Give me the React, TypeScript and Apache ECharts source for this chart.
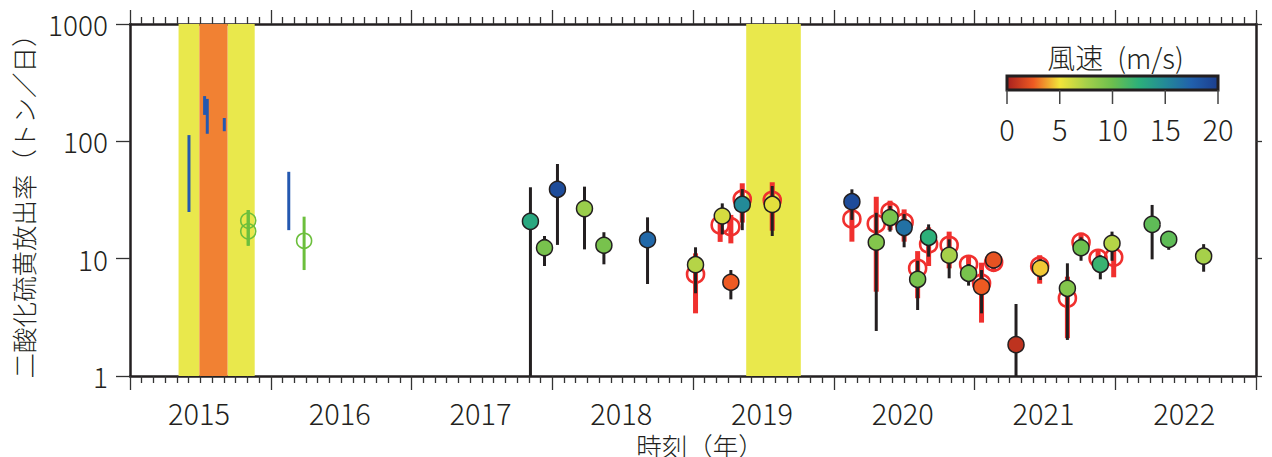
import React, { useEffect, useRef } from "react";
import * as echarts from "echarts";

// ---- data ----
const yearLabels = ["2015", "2016", "2017", "2018", "2019", "2020", "2021", "2022"];
const yTickLabels = ["1", "10", "100", "1000"];
const windTicks = [0, 5, 10, 15, 20];

// alert level periods [start, end] (decimal year)
const level2Periods = [
  [2015.345, 2015.493],
  [2015.693, 2015.886],
  [2019.378, 2019.766],
];
const level3Periods = [[2015.493, 2015.693]];

// range-only measurements 2015-2016: [date, low, high]
const blueRanges = [
  [2015.419, 25.0, 113],
  [2015.53, 168, 243],
  [2015.549, 116, 230],
  [2015.67, 122, 158],
  [2016.128, 17.5, 55],
];
// green open circles: [date, value, low, high]
const greenOpen = [
  [2015.84, 21.1, 12.9, 26.0],
  [2015.84, 17.1, 12.9, 26.0],
  [2016.237, 14.2, 8.0, 22.8],
];

// main filled points: [date, value, wind speed, low, high]
const mainPoints = [
  [2017.845, 20.8, 13, 1, 40.6],
  [2017.945, 12.4, 9.5, 8.66, 15.6],
  [2018.037, 39.0, 19, 13.1, 64.1],
  [2018.229, 26.7, 8, 12.0, 41.1],
  [2018.367, 13.0, 9.5, 8.95, 16.8],
  [2018.677, 14.5, 17, 6.08, 22.5],
  [2019.018, 8.89, 7, 5.07, 12.5],
  [2019.208, 23.1, 6, 16.1, 29.6],
  [2019.269, 6.29, 2.5, 4.5, 8.0],
  [2019.35, 29.0, 15, 17.5, 39.2],
  [2019.563, 29.0, 5.5, 15.6, 41.6],
  [2020.129, 30.6, 19, 21.4, 39.0],
  [2020.302, 13.8, 9, 2.42, 24.6],
  [2020.4, 22.4, 9.5, 17.0, 28.1],
  [2020.5, 18.4, 16.5, 12.5, 24.0],
  [2020.596, 6.67, 9.5, 3.65, 9.6],
  [2020.674, 15.2, 12.5, 10.4, 19.6],
  [2020.82, 10.7, 7.5, 6.8, 14.6],
  [2020.958, 7.5, 9.5, 5.89, 9.0],
  [2021.05, 5.77, 2.5, 3.42, 8.0],
  [2021.136, 9.74, 2.2, 8.27, 11.1],
  [2021.295, 1.85, 0.8, 1, 4.11],
  [2021.468, 8.27, 4.5, 6.58, 9.87],
  [2021.66, 5.59, 9, 2.03, 9.13],
  [2021.757, 12.4, 10, 9.6, 15.2],
  [2021.894, 8.95, 12, 6.67, 10.7],
  [2021.977, 13.5, 7, 9.6, 17.0],
  [2022.262, 19.6, 10.5, 9.87, 28.7],
  [2022.38, 14.6, 10.5, 11.9, 16.7],
  [2022.628, 10.5, 7.5, 7.74, 13.3],
];

// red open circles (second method): [date, value, low, high]
const redPoints = [
  [2019.018, 7.36, 3.42, 11.1],
  [2019.193, 19.4, 13.9, 22.6],
  [2019.269, 18.7, 13.5, 23.6],
  [2019.35, 32.1, 20.3, 43.9],
  [2019.563, 31.4, 17.3, 44.8],
  [2020.129, 21.8, 13.96, 27.7],
  [2020.302, 19.8, 5.23, 33.7],
  [2020.4, 25.1, 17.5, 31.2],
  [2020.5, 20.4, 13.96, 26.3],
  [2020.596, 8.27, 4.6, 11.6],
  [2020.674, 13.3, 8.66, 18.5],
  [2020.82, 13.0, 8.27, 17.0],
  [2020.958, 8.95, 7.5, 10.7],
  [2021.05, 6.17, 2.85, 9.24],
  [2021.136, 9.31, 7.76, 10.7],
  [2021.463, 8.66, 6.12, 10.7],
  [2021.66, 4.59, 2.1, 7.02],
  [2021.757, 13.8, 11.9, 15.9],
  [2021.878, 10.07, 7.74, 12.0],
  [2021.989, 10.3, 6.94, 11.9],
];

const windColors = [
  "#a8201e", "#ee5a22", "#f2e43a", "#a6d04a", "#6cbf4e",
  "#2cb07a", "#238a98", "#2160ac", "#1c3e8e",
];

const FONT = "'Noto Sans CJK JP', 'Noto Sans', sans-serif";
const INK = "#231f20";
const FW = 300;

function barSeries(data: number[][], color: string, width: number, z: number) {
  return {
    type: "custom",
    z,
    data,
    encode: { x: 0, y: [1, 2] },
    renderItem: (params: any, api: any) => {
      const x = api.value(0);
      const lo = api.coord([x, api.value(1)]);
      const hi = api.coord([x, api.value(2)]);
      return {
        type: "line",
        shape: { x1: lo[0], y1: lo[1], x2: hi[0], y2: hi[1] },
        style: { stroke: color, lineWidth: width },
      };
    },
  };
}

export default function App() {
  const ref = useRef<HTMLDivElement>(null);
  useEffect(() => {
    if (!ref.current) return;
    const chart = echarts.init(ref.current, null, { renderer: "svg" });

    const cbX = 1007, cbW = 211, cbY = 76, cbH = 14;
    const stops = windColors.map((c, i) => ({ offset: i / (windColors.length - 1), color: c }));
    const graphics: any[] = [
      {
        type: "rect",
        shape: { x: cbX, y: cbY, width: cbW, height: cbH },
        style: { fill: new echarts.graphic.LinearGradient(0, 0, 1, 0, stops), stroke: INK, lineWidth: 3 },
        z: 100,
      },
      {
        type: "text",
        x: cbX + cbW / 2 + 3,
        y: 57,
        style: { text: "風速\u2002(m/s)", font: `${FW} 28px ${FONT}`, fill: INK, align: "center", verticalAlign: "middle" },
        z: 100,
      },
    ];
    windTicks.forEach((w) => {
      const x = cbX + (w / 20) * cbW;
      graphics.push({
        type: "line",
        shape: { x1: x, y1: cbY + cbH, x2: x, y2: cbY + cbH + 14 },
        style: { stroke: "#444", lineWidth: 1.5 },
        z: 100,
      });
      graphics.push({
        type: "text",
        x,
        y: 128,
        style: { text: String(w), font: `${FW} 29px ${FONT}`, fill: INK, align: "center", verticalAlign: "middle" },
        z: 100,
      });
    });

    const xCommon = {
      type: "value",
      min: 2015,
      max: 2023,
      interval: 1,
      splitLine: { show: false },
      axisLine: { show: true, onZero: false, lineStyle: { color: INK, width: 2.5 } },
      axisTick: { show: true, inside: false, length: 14, lineStyle: { color: "#333", width: 1.3 } },
      minorTick: { show: true, splitNumber: 12, length: 7, lineStyle: { color: "#333", width: 1.3 } },
      minorSplitLine: { show: false },
    };

    const option: any = {
      animation: false,
      backgroundColor: "#fff",
      textStyle: { fontFamily: FONT },
      grid: { left: 130, right: 16, top: 24, bottom: 81, containLabel: false, outerBoundsMode: "none" },
      xAxis: [
        {
          ...xCommon,
          position: "bottom",
          name: "時刻（年）",
          nameLocation: "middle",
          nameGap: 49,
          nameTextStyle: {
            fontSize: 25.5,
            lineHeight: 25,
            color: INK,
            fontFamily: FONT,
            fontWeight: FW,
            padding: [0, 0, 0, 14],
          },
          axisLabel: {
            show: true,
            showMinLabel: true,
            showMaxLabel: true,
            hideOverlap: false,
            margin: 24,
            fontSize: 29,
            lineHeight: 24,
            color: INK,
            fontFamily: FONT,
            fontWeight: FW,
            align: "left",
            padding: [0, 0, 0, 38],
            formatter: (v: number) => {
              const s = String(Math.round(v));
              return yearLabels.includes(s) ? s : "";
            },
          },
        },
        { ...xCommon, position: "top", axisLabel: { show: false } },
      ],
      yAxis: [
        {
          type: "log",
          logBase: 10,
          min: 1,
          max: 1000,
          position: "left",
          name: "二酸化硫黄放出率（トン／日）",
          nameLocation: "middle",
          nameGap: 95,
          nameTextStyle: { fontSize: 25.5, color: INK, fontFamily: FONT, fontWeight: FW },
          splitLine: { show: false },
          axisLine: { show: true, onZero: false, lineStyle: { color: INK, width: 2.5 } },
          axisTick: { show: true, inside: false, length: 14, lineStyle: { color: "#333", width: 1.3 } },
          axisLabel: {
            show: true,
            margin: 22,
            fontSize: 28,
            color: INK,
            fontFamily: FONT,
            fontWeight: FW,
            formatter: (v: number) => {
              const s = String(Math.round(v));
              return yTickLabels.includes(s) ? s : "";
            },
          },
        },
        {
          type: "log",
          logBase: 10,
          min: 1,
          max: 1000,
          position: "right",
          splitLine: { show: false },
          axisLine: { show: true, onZero: false, lineStyle: { color: INK, width: 2.5 } },
          axisTick: { show: true, inside: false, length: 6, lineStyle: { color: "#333", width: 1.3 } },
          axisLabel: { show: false },
        },
      ],
      visualMap: {
        show: false,
        type: "continuous",
        min: 0,
        max: 20,
        dimension: 2,
        seriesIndex: 6,
        inRange: { color: windColors },
      },
      graphic: graphics,
      series: [
        {
          type: "scatter",
          z: 1,
          data: [],
          markArea: {
            silent: true,
            data: [
              ...level2Periods.map((p) => [
                { xAxis: p[0], itemStyle: { color: "#e9e84c", opacity: 1 } },
                { xAxis: p[1] },
              ]),
              ...level3Periods.map((p) => [
                { xAxis: p[0], itemStyle: { color: "#f18133", opacity: 1 } },
                { xAxis: p[1] },
              ]),
            ],
          },
        },
        barSeries(blueRanges, "#2458b0", 3, 3),
        barSeries(greenOpen.map((d) => [d[0], d[2], d[3]]), "#6cbf3c", 3, 3),
        {
          type: "scatter",
          z: 4,
          symbol: "circle",
          symbolSize: 15,
          data: greenOpen.map((d) => [d[0], d[1]]),
          itemStyle: { color: "rgba(0,0,0,0)", borderColor: "#6cbf3c", borderWidth: 1.6, opacity: 1 },
        },
        barSeries(redPoints.map((d) => [d[0], d[2], d[3]]), "#f0302e", 5, 5),
        {
          type: "scatter",
          z: 6,
          symbol: "circle",
          symbolSize: 17,
          data: redPoints.map((d) => [d[0], d[1]]),
          itemStyle: { color: "rgba(0,0,0,0)", borderColor: "#f0302e", borderWidth: 2.6, opacity: 1 },
        },
        {
          type: "scatter",
          z: 8,
          symbol: "circle",
          symbolSize: 16,
          data: mainPoints.map((d) => [d[0], d[1], d[2]]),
          itemStyle: { borderColor: INK, borderWidth: 1.5, opacity: 1 },
        },
        barSeries(mainPoints.map((d) => [d[0], d[3], d[4]]), INK, 3, 7),
      ],
    };
    chart.setOption(option);
    return () => chart.dispose();
  }, []);

  return (
    <div
      ref={ref}
      style={{ position: "fixed", left: 0, top: 0, width: 1272, height: 457 }}
    />
  );
}
